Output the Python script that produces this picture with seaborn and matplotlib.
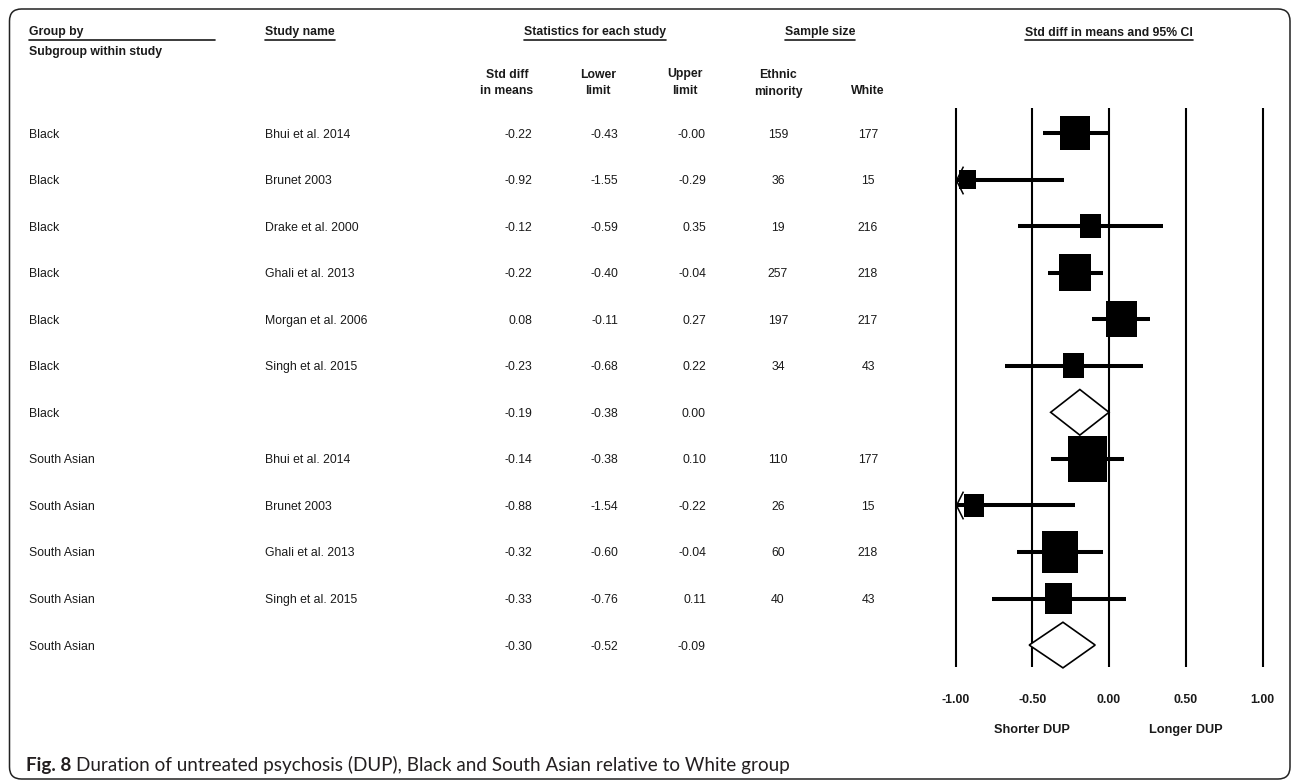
import numpy as np
import pandas as pd
import matplotlib
matplotlib.use("Agg")
import matplotlib.pyplot as plt
import matplotlib.transforms as mtransforms
from matplotlib.path import Path
from matplotlib.patches import FancyBboxPatch, Polygon
from matplotlib.lines import Line2D
import seaborn as sns

# 数据
groups = ["Black"] * 7 + ["South Asian"] * 5
studies = ["Bhui et al. 2014", "Brunet 2003", "Drake et al. 2000", "Ghali et al. 2013",
           "Morgan et al. 2006", "Singh et al. 2015", "",
           "Bhui et al. 2014", "Brunet 2003", "Ghali et al. 2013", "Singh et al. 2015", ""]
smd = [-0.22, -0.92, -0.12, -0.22, 0.08, -0.23, -0.19,
       -0.14, -0.88, -0.32, -0.33, -0.30]
lower = [-0.43, -1.55, -0.59, -0.40, -0.11, -0.68, -0.38,
         -0.38, -1.54, -0.60, -0.76, -0.52]
upper = [-0.00, -0.29, 0.35, -0.04, 0.27, 0.22, 0.00,
         0.10, -0.22, -0.04, 0.11, -0.09]
n_minority = [159, 36, 19, 257, 197, 34, None, 110, 26, 60, 40, None]
n_white = [177, 15, 216, 218, 217, 43, None, 177, 15, 218, 43, None]
is_summary = [s == "" for s in studies]

tick_vals = [-1.0, -0.5, 0.0, 0.5, 1.0]
x_min = -1.0

W, H = 1292, 782
sns.set_theme(style="white")
plt.rcParams["font.family"] = ["Liberation Sans", "DejaVu Sans"]
TXT = "#1a1a1a"
FS = 8.8

fig = plt.figure(figsize=(W / 100, H / 100), dpi=100)


def fx(px):
    return px / W


def fy(py):
    return 1 - py / H


def re_rel_weights(est, lo, hi):
    """随机效应 (DerSimonian-Laird) 组内相对权重"""
    est, lo, hi = map(np.asarray, (est, lo, hi))
    v = ((hi - lo) / (2 * 1.959964)) ** 2
    w = 1 / v
    mean = np.sum(w * est) / w.sum()
    q = np.sum(w * (est - mean) ** 2)
    c = w.sum() - np.sum(w ** 2) / w.sum()
    tau2 = max(0.0, (q - (len(est) - 1)) / c)
    wr = 1 / (v + tau2)
    return wr / wr.sum()


df = pd.DataFrame({"group": groups, "study": studies, "smd": smd, "lower": lower,
                   "upper": upper, "summary": is_summary})
df["row"] = np.arange(len(df))
df["relw"] = np.nan
for g in df["group"].unique():
    m = (df["group"] == g) & (~df["summary"])
    df.loc[m, "relw"] = re_rel_weights(df.loc[m, "smd"], df.loc[m, "lower"], df.loc[m, "upper"])

# 森林图坐标轴
x0px, x1px = 940, 1285
zero_px, unit_px = 1109, 153.5
row0_px, row_px = 133, 46.55
top_px, bot_px = 100, 680
ax = fig.add_axes([fx(x0px), fy(bot_px), (x1px - x0px) / W, (bot_px - top_px) / H])

n = len(df)
ax.vlines(tick_vals, -0.54, n - 1 + 0.47, color="black", lw=1.5, zorder=1)

st = df[~df["summary"]]
ax.hlines(st["row"], np.clip(st["lower"], x_min, None), st["upper"], color="black", lw=2.9, zorder=2)

box = Path([(-0.43, -0.5), (0.43, -0.5), (0.43, 0.5), (-0.43, 0.5), (-0.43, -0.5)], closed=True)
sns.scatterplot(data=st, x="smd", y="row", size="relw", sizes=(0, 2820), size_norm=(0, 1),
                marker=box, color="black", linewidth=0, legend=False, ax=ax, zorder=4)

chevron = Path([(0.5, 1), (0, 0), (0.5, -1)], [Path.MOVETO, Path.LINETO, Path.LINETO])
clipped = st[st["lower"] < x_min]
ax.plot(np.full(len(clipped), x_min), clipped["row"], ls="none", marker=chevron, ms=20,
        mfc="none", mec="black", mew=1.1, zorder=5)

for _, r in df[df["summary"]].iterrows():
    ax.add_patch(Polygon([(r["lower"], r["row"]), (r["smd"], r["row"] - 0.49),
                          (r["upper"], r["row"]), (r["smd"], r["row"] + 0.49)],
                         closed=True, fc="white", ec="black", lw=1.2, zorder=5))

ax.set_xlim((x0px - zero_px) / unit_px, (x1px - zero_px) / unit_px)
ax.set_ylim((bot_px - row0_px) / row_px, (top_px - row0_px) / row_px)
ax.set_xticks(tick_vals)
ax.set_xticklabels([f"{t:.2f}" for t in tick_vals], fontweight="bold", fontsize=FS, color=TXT)
ax.set_yticks([])
ax.set_xlabel("")
ax.set_ylabel("")
ax.tick_params(axis="x", length=0, pad=10)
sns.despine(ax=ax, left=True, bottom=True)
ax.patch.set_alpha(0)

lab_tr = mtransforms.blended_transform_factory(ax.transData, fig.transFigure)
ax.text(-0.5, fy(730), "Shorter DUP", transform=lab_tr, ha="center", va="center",
        fontweight="bold", fontsize=FS + 0.4, color=TXT)
ax.text(0.5, fy(730), "Longer DUP", transform=lab_tr, ha="center", va="center",
        fontweight="bold", fontsize=FS + 0.4, color=TXT)

# 表格文字
tr = mtransforms.blended_transform_factory(fig.transFigure, ax.transData)
for _, r in df.iterrows():
    y = r["row"]
    kw = dict(transform=tr, va="center_baseline", fontsize=FS, color=TXT)
    ax.text(fx(29), y, r["group"], ha="left", **kw)
    ax.text(fx(265), y, r["study"], ha="left", **kw)
    ax.text(fx(532), y, f"{r['smd']:.2f}", ha="right", **kw)
    ax.text(fx(618), y, f"{r['lower']:.2f}", ha="right", **kw)
    ax.text(fx(706), y, f"{r['upper']:.2f}", ha="right", **kw)
for y, a, b in zip(df["row"], n_minority, n_white):
    if a is not None:
        ax.text(fx(778), y, str(a), transform=tr, ha="center", va="center_baseline",
                fontsize=FS, color=TXT)
        ax.text(fx(868), y, str(b), transform=tr, ha="center", va="center_baseline",
                fontsize=FS, color=TXT)

# 表头
top_headers = [("Group by", 29, "left"), ("Study name", 265, "left"),
               ("Statistics for each study", 595, "center"), ("Sample size", 820, "center"),
               ("Std diff in means and 95% CI", 1109, "center")]
head_texts = []
for label, x, ha in top_headers:
    head_texts.append(fig.text(fx(x), fy(31), label, ha=ha, va="center_baseline",
                               fontweight="bold", fontsize=FS, color=TXT))
fig.text(fx(29), fy(50), "Subgroup within study", ha="left", va="center_baseline",
         fontweight="bold", fontsize=FS, color=TXT)

col_headers = [("Std diff\nin means", 507), ("Lower\nlimit", 598), ("Upper\nlimit", 685),
               ("Ethnic\nminority", 778), ("White", 868)]
for label, x in col_headers:
    lines = label.split("\n")
    ys = [90] if len(lines) == 1 else [73, 90]
    for line, y in zip(lines, ys):
        fig.text(fx(x), fy(y), line, ha="center", va="center_baseline", fontweight="bold",
                 fontsize=FS, color=TXT)

# 外框
fig.patches.append(FancyBboxPatch((0.095, 0.03), 12.805, 7.70,
                                  boxstyle="round,pad=0,rounding_size=0.12",
                                  transform=fig.dpi_scale_trans, fc="none",
                                  ec="#222222", lw=1.1, zorder=0))

# 图注
cap_bold = fig.text(fx(26), fy(765), "Fig. 8", ha="left", va="center", fontweight="bold",
                    fontsize=13.6, family=["Lato", "DejaVu Sans"], color="#231f20")

fig.canvas.draw()
renderer = fig.canvas.get_renderer()
for t, (label, x, ha) in zip(head_texts, top_headers):
    bb = t.get_window_extent(renderer)
    x_end = 215 if label == "Group by" else bb.x1
    fig.add_artist(Line2D([bb.x0, x_end], [H - 40, H - 40], transform=None,
                          color=TXT, lw=1.2))
bb = cap_bold.get_window_extent(renderer)
fig.text(fx(bb.x1 + 5), fy(765), "Duration of untreated psychosis (DUP), Black and South Asian relative to White group",
         ha="left", va="center", fontsize=13.6, family=["Lato", "DejaVu Sans"], color="#231f20")

fig.savefig("out.png", dpi=100)
